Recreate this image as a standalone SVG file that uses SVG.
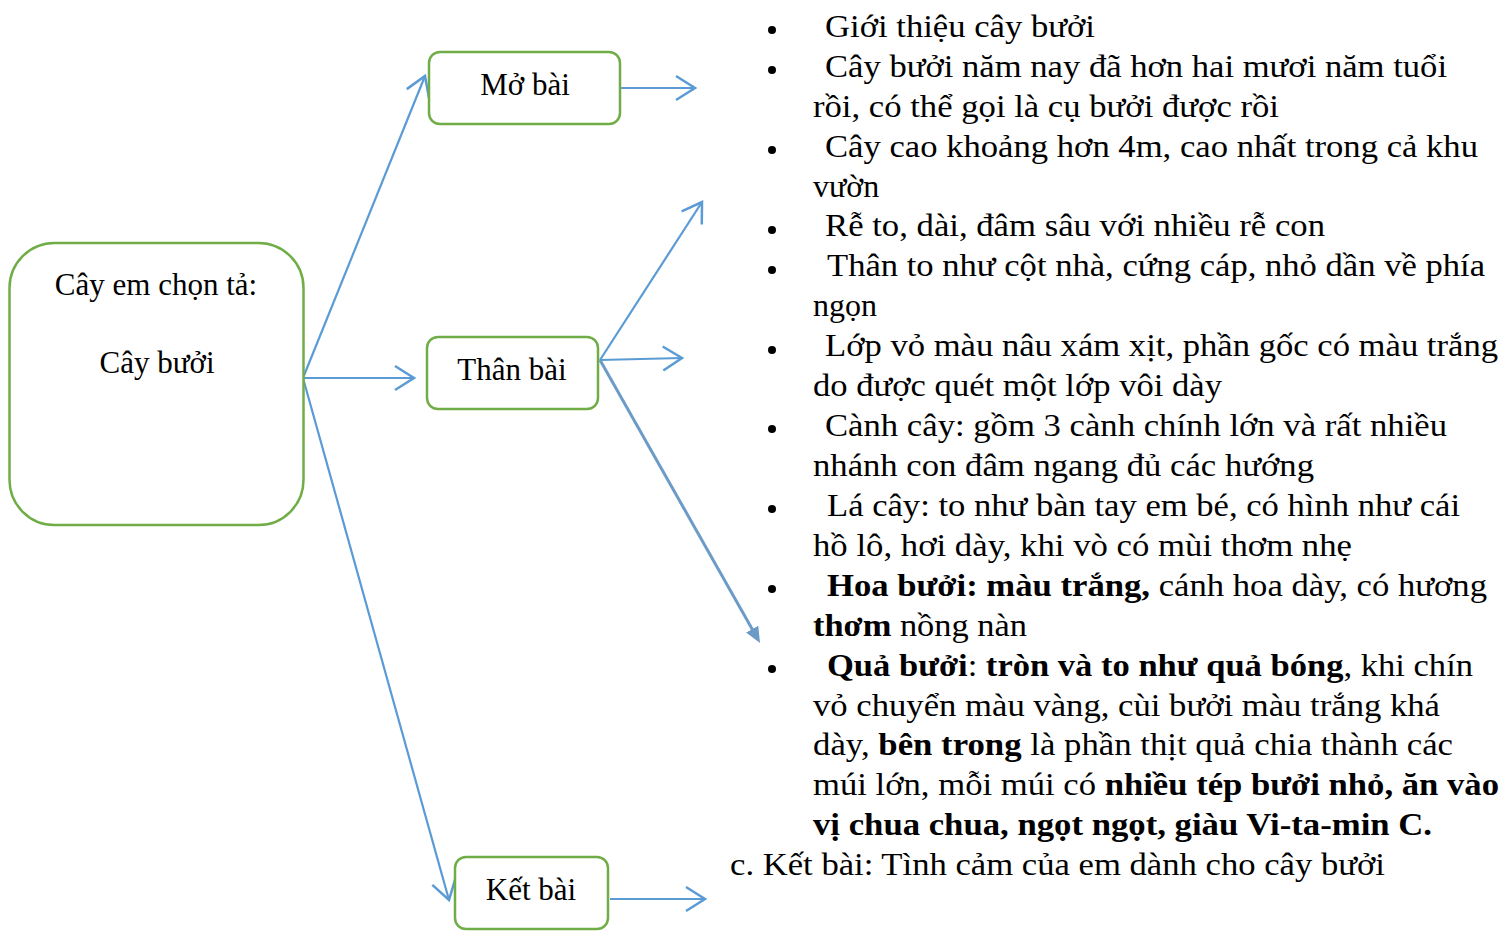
<svg xmlns="http://www.w3.org/2000/svg" width="1502" height="931" viewBox="0 0 1502 931">
<style>
.box{fill:#fff;stroke:#70AD47;stroke-width:2.5}
.lbl{font-family:"Liberation Serif","Times New Roman",serif;font-size:31px;fill:#000;text-anchor:middle}
.t{font-family:"Liberation Serif","Times New Roman",serif;font-size:32px;fill:#000}
.b{font-weight:bold}
.c{stroke:#5B9BD5;stroke-width:2.2;fill:none}
.c2{stroke:#6C9BC8;stroke-width:3;fill:none}
.bul{fill:#000}
</style>
<defs>
<marker id="open" viewBox="0 0 24 28" refX="21" refY="14" markerWidth="24" markerHeight="28" orient="auto" markerUnits="userSpaceOnUse">
<path d="M2,2 L21,14 L2,26" fill="none" stroke="#5B9BD5" stroke-width="2.5"/>
</marker>
<marker id="solid" viewBox="0 0 16 14" refX="6" refY="7" markerWidth="16" markerHeight="14" orient="auto" markerUnits="userSpaceOnUse">
<path d="M0,0 L16,7 L0,14 z" fill="#6C9BC8"/>
</marker>
</defs>
<rect width="1502" height="931" fill="#fff"/>
<g id="connectors">
<line class="c" x1="303" y1="378" x2="425" y2="76" marker-end="url(#open)"/>
<line class="c" x1="303" y1="378" x2="414" y2="378" marker-end="url(#open)"/>
<line class="c" x1="303" y1="378" x2="449" y2="900" marker-end="url(#open)"/>
<line class="c" x1="621" y1="88" x2="695" y2="88" marker-end="url(#open)"/>
<line class="c" x1="600" y1="360" x2="702" y2="202" marker-end="url(#open)"/>
<line class="c" x1="600" y1="360" x2="682" y2="358" marker-end="url(#open)"/>
<line class="c2" x1="600" y1="360" x2="755.1" y2="634.3" marker-end="url(#solid)"/>
<line class="c" x1="610" y1="899" x2="705" y2="899" marker-end="url(#open)"/>
</g>
<g id="node-root">
<rect class="box" x="9.5" y="243" width="294" height="282" rx="45"/>
<text class="lbl" x="156" y="295">Cây em chọn tả:</text>
<text class="lbl" x="157" y="373">Cây bưởi</text>
</g>
<g id="node-mobai">
<rect class="box" x="429" y="52" width="191" height="72" rx="11"/>
<text class="lbl" x="525" y="95">Mở bài</text>
</g>
<g id="node-thanbai">
<rect class="box" x="427" y="337" width="171" height="72" rx="11"/>
<text class="lbl" x="512" y="380">Thân bài</text>
</g>
<g id="node-ketbai">
<rect class="box" x="455" y="857" width="153" height="72" rx="11"/>
<text class="lbl" x="531" y="900">Kết bài</text>
</g>
<g id="content">
<g class="bul">
<circle cx="772" cy="30" r="4"/>
<circle cx="772" cy="70" r="4"/>
<circle cx="772" cy="150" r="4"/>
<circle cx="772" cy="230" r="4"/>
<circle cx="772" cy="270" r="4"/>
<circle cx="772" cy="350" r="4"/>
<circle cx="772" cy="429" r="4"/>
<circle cx="772" cy="509" r="4"/>
<circle cx="772" cy="589" r="4"/>
<circle cx="772" cy="669" r="4"/>
</g>
<text class="t" x="825" y="37" textLength="270" lengthAdjust="spacingAndGlyphs">Giới thiệu cây bưởi</text>
<text class="t" x="825" y="77" textLength="622" lengthAdjust="spacingAndGlyphs">Cây bưởi năm nay đã hơn hai mươi năm tuổi</text>
<text class="t" x="813" y="117" textLength="466" lengthAdjust="spacingAndGlyphs">rồi, có thể gọi là cụ bưởi được rồi</text>
<text class="t" x="825" y="157" textLength="653" lengthAdjust="spacingAndGlyphs">Cây cao khoảng hơn 4m, cao nhất trong cả khu</text>
<text class="t" x="813" y="197">vườn</text>
<text class="t" x="825" y="236" textLength="500" lengthAdjust="spacingAndGlyphs">Rễ to, dài, đâm sâu với nhiều rễ con</text>
<text class="t" x="827" y="276" textLength="658" lengthAdjust="spacingAndGlyphs">Thân to như cột nhà, cứng cáp, nhỏ dần về phía</text>
<text class="t" x="813" y="316">ngọn</text>
<text class="t" x="825" y="356" textLength="673" lengthAdjust="spacingAndGlyphs">Lớp vỏ màu nâu xám xịt, phần gốc có màu trắng</text>
<text class="t" x="813" y="396" textLength="409" lengthAdjust="spacingAndGlyphs">do được quét một lớp vôi dày</text>
<text class="t" x="825" y="436" textLength="622" lengthAdjust="spacingAndGlyphs">Cành cây: gồm 3 cành chính lớn và rất nhiều</text>
<text class="t" x="813" y="476" textLength="501" lengthAdjust="spacingAndGlyphs">nhánh con đâm ngang đủ các hướng</text>
<text class="t" x="827" y="516" textLength="633" lengthAdjust="spacingAndGlyphs">Lá cây: to như bàn tay em bé, có hình như cái</text>
<text class="t" x="813" y="556" textLength="539" lengthAdjust="spacingAndGlyphs">hồ lô, hơi dày, khi vò có mùi thơm nhẹ</text>
<text class="t" x="827" y="596" textLength="660" lengthAdjust="spacingAndGlyphs"><tspan class="b">Hoa bưởi: màu trắng,</tspan> cánh hoa dày, có hương</text>
<text class="t" x="813" y="636" textLength="214" lengthAdjust="spacingAndGlyphs"><tspan class="b">thơm</tspan> nồng nàn</text>
<text class="t" x="827" y="676" textLength="646" lengthAdjust="spacingAndGlyphs"><tspan class="b">Quả bưởi</tspan>: <tspan class="b">tròn và to như quả bóng</tspan>, khi chín</text>
<text class="t" x="813" y="716" textLength="627" lengthAdjust="spacingAndGlyphs">vỏ chuyển màu vàng, cùi bưởi màu trắng khá</text>
<text class="t" x="813" y="755" textLength="640" lengthAdjust="spacingAndGlyphs">dày, <tspan class="b">bên trong</tspan> là phần thịt quả chia thành các</text>
<text class="t" x="813" y="795" textLength="686" lengthAdjust="spacingAndGlyphs">múi lớn, mỗi múi có <tspan class="b">nhiều tép bưởi nhỏ, ăn vào</tspan></text>
<text class="t b" x="813" y="835" textLength="619" lengthAdjust="spacingAndGlyphs">vị chua chua, ngọt ngọt, giàu Vi-ta-min C.</text>
<text class="t" x="730" y="875" textLength="655" lengthAdjust="spacingAndGlyphs">c. Kết bài: Tình cảm của em dành cho cây bưởi</text>
</g>
</svg>
